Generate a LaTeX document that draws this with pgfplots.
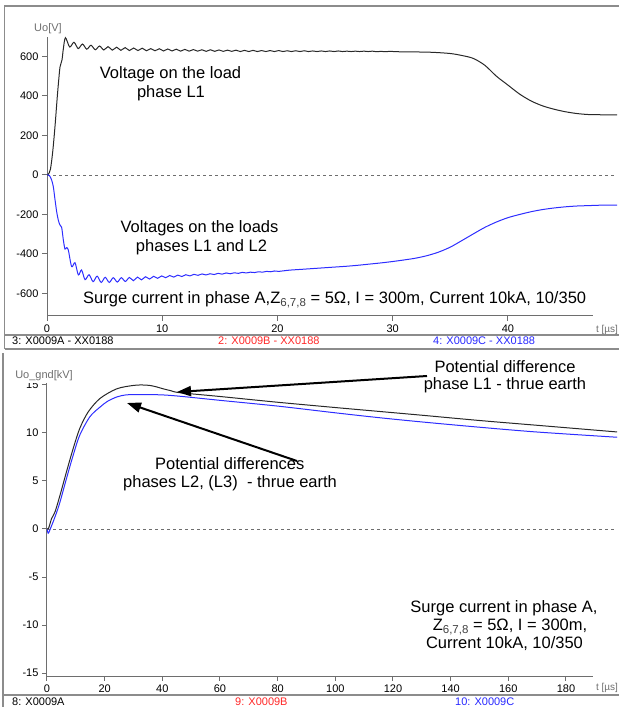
\documentclass[border=0pt]{standalone}
\usepackage{fontspec}
\setmainfont{Liberation Sans}
\usepackage{pgfplots}
\pgfplotsset{compat=1.18}
\usetikzlibrary{arrows.meta}

\definecolor{framegray}{RGB}{140,140,140}
\definecolor{axisgray}{RGB}{110,110,110}
\definecolor{tracered}{RGB}{255,40,40}
\definecolor{traceblue}{RGB}{40,40,255}
\definecolor{curveblue}{RGB}{45,45,255}
\definecolor{curveblack}{RGB}{40,40,40}

\newcommand\annot{\fontsize{16.5}{19}\selectfont}
\newcommand\legtxt{\fontsize{11}{12}\selectfont}
\newcommand\subz[1]{\raisebox{-2.5pt}{\fontsize{11.5}{12}\selectfont\color{black!75}#1}}

\pgfplotsset{
  scopeaxis/.style={
    scale only axis, anchor=south west,
    axis x line=bottom, axis y line=left,
    axis line style={-, draw=axisgray, line width=1pt},
    x axis line style={shorten >=24pt},
    tick align=outside, major tick length=5pt,
    every tick/.style={draw=axisgray, line width=1pt},
    tick label style={font=\fontsize{11}{11}\selectfont, text=black},
    /pgf/number format/assume math mode=true,
    /pgf/number format/1000 sep={},
  }
}

\begin{document}
\begin{tikzpicture}[x=1pt, y=1pt]
\useasboundingbox (0,0) rectangle (619,707);

% ---------- panel frames ----------
\draw[framegray, line width=1.5pt] (4.5,358) -- (4.5,701) -- (619,701);
\draw[framegray, line width=1.2pt] (4.5,372) -- (619,372);
\draw[framegray, line width=1.5pt] (4.5,358) -- (619,358);
\draw[framegray, line width=1.5pt] (3,354) -- (3,0);
\draw[framegray, line width=1.2pt] (3,12) -- (619,12);

% ---------- upper panel: load voltages ----------
\begin{axis}[scopeaxis,
  at={(47pt,391pt)}, width=570pt, height=279pt,
  xmin=0, xmax=49.46, ymin=-713.9, ymax=698.7,
  xtick={0,10,20,30,40}, ytick={-600,-400,-200,0,200,400,600},
]
\addplot[axisgray, line width=0.8pt, dash pattern=on 3pt off 3pt] coordinates {(0,0) (49.2,0)};
% phase L1
\addplot[curveblack, line width=1pt, smooth, tension=0.5] coordinates {
(0,0) (0.1,2) (0.3,30) (0.5,120) (0.7,250) (0.87,380) (1.0,470) (1.13,547) (1.3,582) (1.42,640) (1.6,695)
(1.97,648) (2.34,672) (2.71,640) (3.08,663) (3.45,637) (3.82,657) (4.19,634) (4.56,653) (4.93,633)
(5.30,650) (5.67,632) (6.04,647) (6.41,631) (6.78,645) (7.15,630) (7.52,643) (7.89,630) (8.26,642)
(8.63,629) (9.00,640) (9.37,629) (9.74,639) (10.11,628) (10.48,638) (10.85,628) (11.22,637) (11.59,627)
(11.96,636) (12.33,627) (12.70,635) (13.07,627) (13.44,634) (13.81,626) (14.18,634) (14.55,626)
(14.92,633) (15.29,626) (15.66,632) (16.03,626) (16.40,632) (16.77,625) (17.14,631) (17.51,625)
(17.88,631) (18.25,625) (18.62,630) (18.99,625) (19.36,630) (19.73,625) (20.10,630) (20.47,625)
(20.84,629) (21.21,625) (21.58,629) (21.95,625) (22.32,629) (22.69,625) (23.06,628) (23.43,625)
(23.80,628) (24.17,625) (24.54,628) (24.91,625) (25.28,628) (25.65,625) (26.02,627) (26.39,625)
(26.76,627) (27.13,625) (27.50,627) (27.87,625) (28.24,627) (28.61,624) (28.98,626) (29.35,624)
(29.72,626) (30.5,624) (32,623) (33.5,621) (35,615) (36,605) (37,590) (38,555) (39,500) (40,455)
(41,410) (42,375) (43,350) (44,333) (45,320) (46,311) (47,306) (48,305) (49.5,305)
};
% phases L2 and L3
\addplot[curveblue, line width=1pt, smooth, tension=0.5] coordinates {
(0,0) (0.2,-2) (0.4,-25) (0.55,-60) (0.7,-127) (0.85,-190) (0.98,-228) (1.1,-250) (1.27,-265)
(1.42,-330) (1.56,-375) (1.7,-368) (1.85,-380) (2.14,-464) (2.43,-444) (2.72,-506) (3.0,-481)
(3.3,-530) (3.65,-505) (4.0,-540) (4.35,-512) (4.7,-544) (5.05,-518) (5.4,-544) (5.75,-520)
(6.1,-542) (6.45,-520) (6.8,-539) (7.15,-519) (7.5,-535) (7.85,-517) (8.2,-531) (8.55,-515)
(8.9,-527) (9.25,-513) (9.6,-523) (9.95,-511) (10.3,-520) (10.65,-509) (11.0,-517) (11.35,-507)
(11.7,-514) (12.05,-505) (12.4,-511) (12.75,-503) (13.1,-508) (13.45,-501) (13.8,-506) (14.15,-500)
(14.5,-504) (14.85,-498) (15.2,-502) (15.55,-496) (15.9,-500) (16.25,-495) (16.6,-498) (16.95,-493)
(17.3,-496) (17.65,-492) (18.0,-494) (18.35,-490) (18.7,-492) (19.05,-488) (19.4,-490) (19.75,-486)
(20.1,-488) (21,-482) (22,-478) (23,-474) (24,-470) (25,-466) (26,-462) (27,-457) (28,-451)
(29,-445) (30,-438) (31,-430) (32,-421) (33,-408) (34,-390) (35,-365) (36,-332) (37,-298)
(38,-265) (39,-238) (40,-216) (41,-200) (42,-186) (43,-175) (44,-167) (45,-161) (46,-157)
(47,-155) (48,-153) (49.5,-152)
};
\end{axis}

\node[text=axisgray, font=\legtxt] at (48,678) {Uo[V]};
\node[text=axisgray, font=\fontsize{10}{10}\selectfont, anchor=mid] at (607,377) {t [µs]};

\node[font=\annot, anchor=mid] at (170.5,631) {Voltage on the load};
\node[font=\annot, anchor=mid] at (171,612) {phase L1};
\node[font=\annot, anchor=mid] at (199.5,477) {Voltages on the loads};
\node[font=\annot, anchor=mid] at (201.5,458) {phases L1 and L2};
\node[font=\annot, anchor=mid west, inner sep=0pt] at (83,406)
  {Surge current in phase A,Z\subz{6,7,8} = 5Ω, I = 300m, Current 10kA, 10/350};

\node[font=\legtxt, anchor=mid west, inner sep=0pt] at (12,365) {3: X0009A - XX0188};
\node[font=\legtxt, anchor=mid west, inner sep=0pt, text=tracered] at (218,365) {2: X0009B - XX0188};
\node[font=\legtxt, anchor=mid west, inner sep=0pt, text=traceblue] at (433,365) {4: X0009C - XX0188};

% ---------- lower panel: potential to earth ----------
\begin{axis}[scopeaxis,
  at={(47pt,31pt)}, width=570pt, height=294pt,
  xmin=0, xmax=197.7, ymin=-15.31, ymax=15.31,
  xtick={0,20,...,180}, ytick={-15,-10,-5,0,5,10,15},
]
\addplot[axisgray, line width=0.8pt, dash pattern=on 3pt off 3pt] coordinates {(0,0) (197.7,0)};
% phases L2, L3
\addplot[curveblue, line width=1pt, smooth, tension=0.5] coordinates {
(0,0) (0.4,-0.45) (0.8,-0.25) (1.4,0.2) (2.2,0.8) (3.3,1.7) (4.5,2.8) (6.8,5.3) (9.1,7.7)
(11.4,9.8) (14.9,11.7) (18.4,12.7) (21,13.3) (24.2,13.75) (27,13.95) (29.9,14.0) (35.7,14.0)
(41,13.95) (47,13.8) (60,13.4) (80,12.8) (100,12.1) (115,11.6) (130,11.15) (150,10.6)
(170,10.1) (198,9.55)
};
% phase L1
\addplot[curveblack, line width=1pt, smooth, tension=0.5] coordinates {
(0,0) (0.5,0.05) (1.0,0.5) (1.6,1.1) (2.8,1.8) (4.5,3.5) (6.8,6.0) (9.1,8.4) (11.4,10.5)
(14.3,12.2) (18.4,13.6) (24.2,14.6) (29.9,14.95) (33,15.0) (35.7,14.95) (38,14.8) (40.3,14.6)
(43,14.4) (46,14.2) (60,13.8) (80,13.2) (100,12.65) (115,12.25) (130,11.85) (150,11.3)
(170,10.8) (198,10.1)
};
\end{axis}

\node[text=axisgray, font=\legtxt, fill=white, inner sep=1.5pt] at (44,331) {Uo\_gnd[kV]};
\node[text=axisgray, font=\fontsize{10}{10}\selectfont, anchor=mid] at (607,19) {t [µs]};

\node[font=\annot, anchor=mid] at (505,337) {Potential difference};
\node[font=\annot, anchor=mid] at (505,320) {phase L1 - thrue earth};
\node[font=\annot, anchor=mid west, inner sep=0pt] at (155,240) {Potential differences};
\node[font=\annot, anchor=mid west, inner sep=0pt] at (123,222) {phases L2, (L3)~~- thrue earth};

\draw[black, line width=2pt, -{Triangle[length=14pt,width=10pt]}] (427,331) -- (177,315);
\draw[black, line width=2pt, -{Triangle[length=14pt,width=10pt]}] (297,246) -- (127,304);

\node[font=\annot, anchor=mid] at (504,97) {Surge current in phase A,};
\node[font=\annot, anchor=mid] at (510,79) {Z\subz{6,7,8} = 5Ω, I = 300m,};
\node[font=\annot, anchor=mid] at (504.5,61) {Current 10kA, 10/350};

\node[font=\legtxt, anchor=mid west, inner sep=0pt] at (12,4) {8: X0009A};
\node[font=\legtxt, anchor=mid west, inner sep=0pt, text=tracered] at (235,4) {9: X0009B};
\node[font=\legtxt, anchor=mid west, inner sep=0pt, text=traceblue] at (455,4) {10: X0009C};
\end{tikzpicture}
\end{document}
